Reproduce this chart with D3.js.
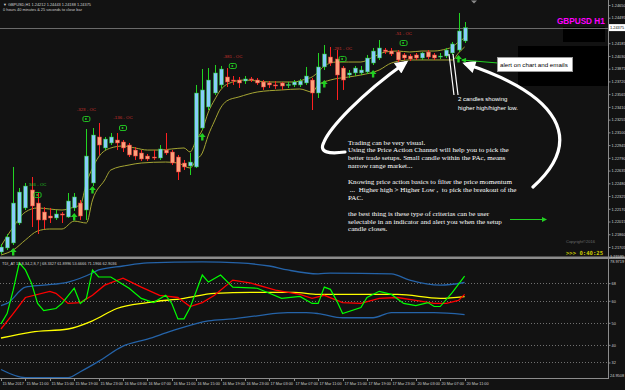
<!DOCTYPE html>
<html>
<head>
<meta charset="utf-8">
<script src="https://cdn.jsdelivr.net/npm/d3@7"></script>
<style>
  html, body { margin: 0; padding: 0; background: #121212; }
  svg { display: block; }
</style>
</head>
<body>
<div id="chart"></div>
<script>
// GBPUSD H1 bars, 15 Mar 2017 07:00 -> 20 Mar 11:00
const opens = [
  1.21644, 1.21693, 1.21754, 1.21997, 1.22180, 1.22399, 1.22240, 1.22131, 1.22082, 1.22058,
  1.22107, 1.22070, 1.22180, 1.22240, 1.22155, 1.22484, 1.23044, 1.22910, 1.22971, 1.23007,
  1.22983, 1.22946, 1.22885, 1.22849, 1.22812, 1.22800, 1.22788, 1.22885, 1.22861, 1.22800,
  1.22727, 1.22691, 1.22679, 1.23153, 1.23409, 1.23579, 1.23677, 1.23774, 1.23737, 1.23737,
  1.23725, 1.23750, 1.23737, 1.23713, 1.23701, 1.23677, 1.23701, 1.23677, 1.23677, 1.23677,
  1.23701, 1.23737, 1.23579, 1.23896, 1.24017, 1.23993, 1.23883, 1.23798, 1.23823, 1.23823,
  1.23835, 1.23944, 1.24005, 1.24102, 1.24090, 1.24078, 1.24042, 1.24029, 1.24042, 1.24005,
  1.24078, 1.24042, 1.24017, 1.24029, 1.24066, 1.24102, 1.24212
];
const highs = [
  1.21742, 1.21863, 1.22679, 1.22423, 1.22484, 1.22557, 1.22362, 1.22192, 1.22180, 1.22155,
  1.22131, 1.22362, 1.22362, 1.22277, 1.23141, 1.23153, 1.23214, 1.23044, 1.23092, 1.23092,
  1.23007, 1.22971, 1.22922, 1.22885, 1.22837, 1.22885, 1.22946, 1.23092, 1.22885, 1.22825,
  1.22764, 1.22849, 1.23677, 1.23871, 1.23883, 1.23920, 1.23908, 1.23883, 1.23786, 1.23774,
  1.23786, 1.23774, 1.23762, 1.23737, 1.23725, 1.23725, 1.23713, 1.23713, 1.23737, 1.23750,
  1.23896, 1.23762, 1.24066, 1.24163, 1.24139, 1.24102, 1.23908, 1.23859, 1.23908, 1.23908,
  1.24042, 1.24127, 1.24224, 1.24127, 1.24127, 1.24102, 1.24066, 1.24054, 1.24066, 1.24078,
  1.24102, 1.24066, 1.24066, 1.24127, 1.24200, 1.24553, 1.24443
];
const lows = [
  1.21620, 1.21668, 1.21729, 1.21973, 1.22155, 1.21948, 1.21863, 1.21924, 1.21997, 1.22034,
  1.21997, 1.22058, 1.22143, 1.22034, 1.22034, 1.22447, 1.22825, 1.22885, 1.22946, 1.22885,
  1.22861, 1.22800, 1.22764, 1.22752, 1.22752, 1.22764, 1.22764, 1.22825, 1.22703, 1.22520,
  1.22642, 1.22581, 1.22666, 1.23129, 1.23372, 1.23555, 1.23640, 1.23652, 1.23677, 1.23640,
  1.23689, 1.23713, 1.23677, 1.23616, 1.23640, 1.23628, 1.23616, 1.23640, 1.23652, 1.23652,
  1.23677, 1.23372, 1.23518, 1.23859, 1.23908, 1.23494, 1.23616, 1.23762, 1.23786, 1.23798,
  1.23810, 1.23920, 1.23981, 1.24054, 1.24029, 1.23956, 1.23981, 1.23969, 1.23981, 1.23981,
  1.23993, 1.23981, 1.23993, 1.24005, 1.24042, 1.24078, 1.24188
];
const closes = [
  1.21705, 1.21827, 1.22240, 1.22374, 1.22447, 1.22204, 1.22034, 1.22034, 1.22058, 1.22107,
  1.22094, 1.22265, 1.22314, 1.22082, 1.22812, 1.23068, 1.22946, 1.23019, 1.23044, 1.22971,
  1.22910, 1.22825, 1.22812, 1.22776, 1.22776, 1.22796, 1.22898, 1.22849, 1.22727, 1.22618,
  1.22679, 1.22739, 1.23579, 1.23616, 1.23737, 1.23823, 1.23871, 1.23713, 1.23731, 1.23701,
  1.23750, 1.23744, 1.23701, 1.23652, 1.23677, 1.23671, 1.23664, 1.23683, 1.23713, 1.23725,
  1.23786, 1.23579, 1.23896, 1.24054, 1.23944, 1.23798, 1.23737, 1.23823, 1.23883, 1.23859,
  1.24005, 1.24090, 1.24127, 1.24084, 1.24054, 1.23981, 1.24005, 1.23993, 1.24005, 1.24066,
  1.24017, 1.24005, 1.24029, 1.24102, 1.24176, 1.24334, 1.24375
];

// price action channel [bar, price]
const pacUpper = [
  [0, 1.21717], [2, 1.21948], [4, 1.22131], [6, 1.22180], [8, 1.22167], [10, 1.22155],
  [12, 1.22192], [13, 1.22216], [14, 1.22484], [15, 1.22666], [16, 1.22800], [18, 1.22910],
  [20, 1.22934], [22, 1.22910], [24, 1.22885], [26, 1.22885], [28, 1.22898], [30, 1.22910],
  [31, 1.22861], [32, 1.23007], [33, 1.23129], [34, 1.23348], [35, 1.23494], [36, 1.23616],
  [38, 1.23713], [40, 1.23737], [42, 1.23725], [44, 1.23713], [46, 1.23713], [48, 1.23713],
  [50, 1.23750], [51, 1.23774], [52, 1.23835], [53, 1.23908], [55, 1.23956], [57, 1.23956],
  [59, 1.23956], [61, 1.24017], [63, 1.24078], [65, 1.24090], [67, 1.24078], [69, 1.24090],
  [71, 1.24090], [73, 1.24115], [74, 1.24139], [75, 1.24200], [76, 1.24249]
];
const pacLower = [
  [0, 1.21608], [2, 1.21668], [4, 1.21790], [6, 1.21900], [8, 1.21924], [10, 1.21924],
  [12, 1.22020], [14, 1.21997], [15, 1.22277], [17, 1.22520], [18, 1.22642], [21, 1.22703],
  [23, 1.22727], [27, 1.22739], [29, 1.22727], [31, 1.22666], [32, 1.22764], [33, 1.22849],
  [34, 1.23068], [35, 1.23238], [36, 1.23397], [37, 1.23482], [39, 1.23531], [42, 1.23591],
  [46, 1.23616], [49, 1.23628], [51, 1.23591], [52, 1.23677], [54, 1.23737], [57, 1.23774],
  [59, 1.23798], [62, 1.23859], [64, 1.23944], [67, 1.23981], [70, 1.23981], [74, 1.23981],
  [75, 1.24066], [76, 1.24139]
];

// TDI sub window [bar, value]
const tdiUpper = [
  [0, 57.8], [1, 58.8], [4, 66.2], [7, 67.1], [11, 68.5], [15, 72.6], [16, 74.0], [20, 75.8],
  [24, 77.2], [33, 77.7], [39, 77.2], [44, 75.8], [47, 74.0], [52, 72.2], [54, 72.6],
  [64, 72.2], [67, 69.4], [72, 67.1], [76, 68.3]
];
const tdiLower = [
  [0, 28.8], [4, 25.1], [11, 25.1], [13, 27.8], [16, 32.5], [20, 39.4], [24, 42.6], [28, 46.3],
  [34, 50.9], [38, 51.8], [42, 53.2], [47, 54.6], [50, 54.6], [52, 54.2], [56, 52.3],
  [61, 52.3], [64, 54.6], [71, 54.6], [76, 53.7]
];
const tdiBase = [
  [0, 43.1], [5, 45.8], [11, 47.2], [15, 50.9], [19, 56.5], [24, 59.2], [30, 61.1], [35, 63.4],
  [41, 63.8], [48, 63.8], [52, 62.9], [65, 62.9], [72, 61.1], [76, 61.9]
];
const tdiSignal = [
  [0, 47.2], [2, 54.2], [4, 61.5], [8, 64.3], [9, 63.4], [11, 58.8], [13, 59.2], [15, 62.5],
  [17, 67.1], [20, 70.3], [23, 66.2], [26, 62.5], [29, 61.5], [31, 57.4], [33, 59.2],
  [35, 62.5], [38, 69.4], [41, 68.0], [45, 64.8], [49, 62.9], [51, 61.1], [53, 62.5],
  [56, 59.2], [59, 58.8], [62, 61.1], [65, 61.5], [68, 60.2], [71, 58.8], [73, 58.8],
  [75, 60.2], [76, 62.9]
];
const tdiRsi = [
  [0, 49.5], [1, 54.2], [2, 64.8], [3, 77.2], [4, 74.0], [5, 68.0], [6, 58.8], [7, 55.5],
  [9, 56.5], [10, 58.8], [12, 65.7], [13, 58.8], [14, 61.1], [15, 74.0], [16, 70.8],
  [18, 70.8], [21, 65.7], [23, 61.1], [25, 59.2], [27, 62.5], [28, 58.8], [29, 51.8],
  [30, 51.8], [31, 56.9], [33, 71.7], [34, 68.5], [36, 71.7], [38, 66.2], [42, 65.7],
  [44, 63.4], [46, 61.1], [49, 62.0], [51, 58.8], [52, 58.8], [53, 66.2], [54, 65.2],
  [55, 60.2], [56, 54.2], [59, 56.9], [60, 61.5], [62, 64.3], [64, 62.9], [66, 58.8],
  [68, 57.8], [70, 59.2], [71, 57.4], [72, 57.4], [74, 63.8], [76, 71.2]
];
const tdiLevels = [68, 60, 50, 40, 32];

// signal labels and buy arrows
const signalBars = [6, 14, 20, 38, 56, 66];
const signalPrices = [1.22460, 1.23384, 1.23275, 1.24029, 1.24115, 1.24309];
const signalLabels = ['346 - OC', '-323 - OC', '-136 - OC', '-381 - OC', '-281 - OC', '-51 - OC'];
const arrowBars = [2, 12, 15, 33, 53, 61, 75];
const arrowPrices = [1.21644, 1.22070, 1.22399, 1.23044, 1.23689, 1.23810, 1.23993];

// axis labels
const priceTicks = [
  1.24650, 1.24495, 1.24340, 1.24185, 1.24030, 1.23875, 1.23720, 1.23565, 1.23410, 1.23255,
  1.23100, 1.22945, 1.22790, 1.22635, 1.22480, 1.22325, 1.22170, 1.22015, 1.21860, 1.21705
];
const timeTickBars = [0, 4, 8, 12, 16, 20, 24, 28, 32, 36, 40, 44, 48, 52, 56, 60, 64, 68, 72, 76];
const timeLabels = [
  '15 Mar 2017', '15 Mar 11:00', '15 Mar 15:00', '15 Mar 19:00', '15 Mar 23:00',
  '16 Mar 03:00', '16 Mar 07:00', '16 Mar 11:00', '16 Mar 15:00', '16 Mar 19:00',
  '16 Mar 23:00', '17 Mar 03:00', '17 Mar 07:00', '17 Mar 11:00', '17 Mar 15:00',
  '17 Mar 19:00', '17 Mar 23:00', '20 Mar 03:00', '20 Mar 07:00', '20 Mar 11:00'
];

// hand drawn annotations, anchored in [bar, price]
const annoArrowA = [[56.39, 1.22861], [53.93, 1.22837], [51.97, 1.22849], [52.95, 1.22983],
  [53.93, 1.23153], [58.85, 1.23555], [66.23, 1.23944]];
const annoArrowB = [[87.21, 1.22435], [95.74, 1.23007], [91.64, 1.23555], [76.23, 1.23932]];
const annoPointers = [
  [[73.44, 1.24054], [74.26, 1.23555]],
  [[74.10, 1.24054], [74.92, 1.23555]]
];
const annoAlert = [[81.48, 1.23944], [75.57, 1.23981]];

const noteLines = [
  'Trading can be very visual.',
  'Using the Price Action Channel will help you to pick the',
  'better trade setups. Small candle within the PAc, means',
  'narrow range market...',
  '',
  'Knowing price action basics to filter the price momentum',
  ' ...  Higher high > Higher Low ,  to pick the breakout of the',
  'PAC.',
  '',
  'the best thing is these type of criterias can be user',
  'selectable in an indicator and alert you when the setup',
  'candle closes.'
];

// ---- layout
const W = 625, H = 390;
const plotRight = 608;
const mainBottom = 256;
const indTop = 259, indBottom = 378;
const tiny = "'Liberation Sans', Arial, sans-serif";

const xScale = d3.scaleLinear().domain([0, 76]).range([1, 464.6]);
const yScale = d3.scaleLinear().domain([1.21705, 1.24650]).range([247, 5]);
const tdiScale = d3.scaleLinear().domain([24.9508, 78.9719]).range([indBottom, indTop]);

const svg = d3.select('#chart').append('svg')
  .attr('width', W).attr('height', H)
  .style('font-family', tiny);

svg.append('rect').attr('width', W).attr('height', H).attr('fill', '#121212');

const defs = svg.append('defs');
defs.append('clipPath').attr('id', 'clipMain')
  .append('rect').attr('x', 0).attr('y', 0).attr('width', plotRight).attr('height', mainBottom);
defs.append('clipPath').attr('id', 'clipInd')
  .append('rect').attr('x', 0).attr('y', indTop).attr('width', plotRight).attr('height', indBottom - indTop);
defs.append('marker').attr('id', 'headWhite')
  .attr('viewBox', '0 0 10 10').attr('refX', 7).attr('refY', 5)
  .attr('markerWidth', 15).attr('markerHeight', 13)
  .attr('markerUnits', 'userSpaceOnUse').attr('orient', 'auto')
  .append('path').attr('d', 'M0,0 L10,5 L0,10 Z').attr('fill', '#fff');
defs.append('marker').attr('id', 'headGreen')
  .attr('viewBox', '0 0 10 10').attr('refX', 8).attr('refY', 5)
  .attr('markerWidth', 6).attr('markerHeight', 5)
  .attr('markerUnits', 'userSpaceOnUse').attr('orient', 'auto')
  .append('path').attr('d', 'M0,0 L10,5 L0,10 Z').attr('fill', '#22d022');

// black boxes behind the labels
svg.append('rect').attr('x', 518).attr('y', 46).attr('width', 90).attr('height', 40).attr('fill', '#000');
svg.append('rect').attr('x', 563).attr('y', 27).attr('width', 42).attr('height', 15).attr('fill', '#000');

const main = svg.append('g').attr('clip-path', 'url(#clipMain)');

// bid line
const lastClose = closes[closes.length - 1];
main.append('line')
  .attr('x1', 0).attr('x2', plotRight)
  .attr('y1', Math.round(yScale(lastClose)) + 0.5).attr('y2', Math.round(yScale(lastClose)) + 0.5)
  .attr('stroke', '#6a6a6a').attr('stroke-width', 1);

// price action channel
const pacLine = d3.line()
  .x((d) => xScale(d[0]))
  .y((d) => yScale(d[1]))
  .curve(d3.curveMonotoneX);
[pacUpper, pacLower].forEach((s) => {
  main.append('path').attr('d', pacLine(s))
    .attr('fill', 'none').attr('stroke', '#a5a533').attr('stroke-width', 1);
});

// candles
const candles = closes.map((c, i) => ({ i, o: opens[i], h: highs[i], l: lows[i], c }));
const cg = main.append('g');
const bar = cg.selectAll('g').data(candles).enter().append('g');
bar.append('line')
  .attr('x1', (d) => Math.round(xScale(d.i)) + 0.5)
  .attr('x2', (d) => Math.round(xScale(d.i)) + 0.5)
  .attr('y1', (d) => yScale(d.h))
  .attr('y2', (d) => yScale(d.l))
  .attr('stroke', (d) => (d.c >= d.o ? '#22d422' : '#ff2020'))
  .attr('stroke-width', 1);
bar.append('rect')
  .attr('x', (d) => Math.round(xScale(d.i)) - 1.5)
  .attr('y', (d) => yScale(Math.max(d.o, d.c)))
  .attr('width', 4)
  .attr('height', (d) => Math.max(1, Math.abs(yScale(d.o) - yScale(d.c))))
  .attr('fill', (d) => (d.c >= d.o ? '#87cefa' : '#ffa07a'))
  .attr('stroke', (d) => (d.c >= d.o ? '#22b422' : '#e03030'))
  .attr('stroke-width', 0.5);

// signal labels with tag icons
signalBars.forEach((b, k) => {
  const x = xScale(b);
  const y = yScale(signalPrices[k]);
  const isUp = signalLabels[k][0] !== '-';
  main.append('text').attr('x', x).attr('y', y + 1.5)
    .attr('text-anchor', 'middle')
    .attr('font-size', 4.4)
    .attr('fill', isUp ? '#22c022' : '#c8302c')
    .text(signalLabels[k]);
  main.append('rect').attr('x', x - 3.5).attr('y', y + 7.5).attr('width', 7).attr('height', 5)
    .attr('rx', 1.5).attr('fill', 'none').attr('stroke', '#22c022').attr('stroke-width', 1);
  main.append('circle').attr('cx', x - 0.5).attr('cy', y + 10).attr('r', 1)
    .attr('fill', '#22c022');
});

// buy arrows
arrowBars.forEach((b, k) => {
  main.append('path')
    .attr('transform', `translate(${xScale(b)},${yScale(arrowPrices[k])})`)
    .attr('d', 'M0,-4 L3.4,0 L1.2,0 L1.2,3.5 L-1.2,3.5 L-1.2,0 L-3.4,0 Z')
    .attr('fill', '#22d022');
});

// annotations
function toPx(p) { return [xScale(p[0]), yScale(p[1])]; }
function bezierPath(pts) {
  const path = d3.path();
  const p0 = toPx(pts[0]);
  path.moveTo(p0[0], p0[1]);
  for (let k = 1; k + 2 < pts.length; k += 3) {
    const a = toPx(pts[k]), b = toPx(pts[k + 1]), c = toPx(pts[k + 2]);
    path.bezierCurveTo(a[0], a[1], b[0], b[1], c[0], c[1]);
  }
  return path.toString();
}
[annoArrowA, annoArrowB].forEach((pts) => {
  svg.append('path').attr('d', bezierPath(pts))
    .attr('fill', 'none').attr('stroke', '#fff').attr('stroke-width', 3.2)
    .attr('stroke-linecap', 'round')
    .attr('marker-end', 'url(#headWhite)');
});
annoPointers.forEach((seg) => {
  const a = toPx(seg[0]), b = toPx(seg[1]);
  svg.append('line').attr('x1', a[0]).attr('y1', a[1]).attr('x2', b[0]).attr('y2', b[1])
    .attr('stroke', '#fff').attr('stroke-width', 1.2);
});
{
  const a = toPx(annoAlert[0]), b = toPx(annoAlert[1]);
  svg.append('line').attr('x1', a[0]).attr('y1', a[1]).attr('x2', b[0]).attr('y2', b[1])
    .attr('stroke', '#22d022').attr('stroke-width', 1.2)
    .attr('marker-end', 'url(#headGreen)');
}

// alert box
svg.append('rect').attr('x', 497.5).attr('y', 57.5).attr('width', 75).attr('height', 14)
  .attr('fill', '#fff').attr('stroke', '#9a9a9a').attr('stroke-width', 1);
svg.append('text').attr('x', 500).attr('y', 67)
  .attr('font-size', 6.2).attr('fill', '#000')
  .text('alert on chart and emails');

svg.append('text').attr('x', 458).attr('y', 100.5).attr('font-size', 6).attr('fill', '#fff')
  .text('2 candles showing');
svg.append('text').attr('x', 458).attr('y', 109.5).attr('font-size', 6).attr('fill', '#fff')
  .text('higher high/higher low.');

// note block
const note = svg.append('text')
  .attr('font-family', "'Liberation Serif', 'Times New Roman', serif")
  .attr('font-size', 7.1).attr('fill', '#fff');
noteLines.forEach((t, k) => {
  note.append('tspan').attr('x', 348).attr('y', 144.5 + k * 7.9)
    .attr('xml:space', 'preserve').text(t);
});

// green arrow near the text block
svg.append('line').attr('x1', 510).attr('y1', 219.5).attr('x2', 546).attr('y2', 219.5)
  .attr('stroke', '#22d022').attr('stroke-width', 1.2)
  .attr('marker-end', 'url(#headGreen)');

// title and timers
svg.append('text').attr('x', 557).attr('y', 23.5)
  .attr('font-size', 8.2).attr('font-weight', 'bold').attr('fill', '#ff00ff')
  .text('GBPUSD H1');
svg.append('text').attr('x', 566).attr('y', 243).attr('font-size', 4).attr('fill', '#6c6c6c')
  .text('Copyright©2016');
svg.append('text').attr('x', 566).attr('y', 255)
  .attr('font-family', "'DejaVu Sans Mono', monospace")
  .attr('font-size', 5.6).attr('font-weight', 'bold').attr('fill', '#c8c800')
  .text('>>> 0:40:25');

const fmt5 = d3.format('.5f');
svg.append('text').attr('x', 3).attr('y', 6).attr('font-size', 3.9).attr('fill', '#d0d0d0')
  .text('\u25BC GBPUSD,H1  ' + [opens, highs, lows, closes].map((a) => fmt5(a[a.length - 1])).join(' '));
svg.append('text').attr('x', 3).attr('y', 11).attr('font-size', 3.9).attr('fill', '#d0d0d0')
  .text('0 hours 40 minutes & 25 seconds to close bar');
svg.append('path').attr('d', 'M471,0.5 L477,0.5 L474,3.5 Z').attr('fill', '#8a8a8a');

// ---- indicator window
svg.append('rect').attr('x', 0).attr('y', mainBottom + 0.5).attr('width', W).attr('height', 2.5)
  .attr('fill', '#8c8c8c');

const ind = svg.append('g').attr('clip-path', 'url(#clipInd)');
tdiLevels.forEach((v) => {
  ind.append('line').attr('x1', 0).attr('x2', plotRight)
    .attr('y1', Math.round(tdiScale(v)) + 0.5).attr('y2', Math.round(tdiScale(v)) + 0.5)
    .attr('stroke', '#707070').attr('stroke-width', 1).attr('stroke-dasharray', '1,2');
});
const smoothLine = d3.line().x((d) => xScale(d[0])).y((d) => tdiScale(d[1])).curve(d3.curveMonotoneX);
const rawLine = d3.line().x((d) => xScale(d[0])).y((d) => tdiScale(d[1]));
ind.append('path').attr('d', smoothLine(tdiUpper)).attr('fill', 'none').attr('stroke', '#2563a8').attr('stroke-width', 1.3);
ind.append('path').attr('d', smoothLine(tdiLower)).attr('fill', 'none').attr('stroke', '#2563a8').attr('stroke-width', 1.3);
ind.append('path').attr('d', smoothLine(tdiBase)).attr('fill', 'none').attr('stroke', '#ffff00').attr('stroke-width', 1.3);
ind.append('path').attr('d', rawLine(tdiSignal)).attr('fill', 'none').attr('stroke', '#ff0000').attr('stroke-width', 1.3);
ind.append('path').attr('d', rawLine(tdiRsi)).attr('fill', 'none').attr('stroke', '#00ff00').attr('stroke-width', 1.2);

svg.append('text').attr('x', 2).attr('y', 264.5).attr('font-size', 3.9).attr('fill', '#d0d0d0')
  .text('TDI_AT 13,8,34,2,8,7 | 68.3327 61.8996 53.6666 71.1966 62.9036');

// ---- axes
const axisColor = '#8c8c8c';
svg.append('line').attr('x1', plotRight + 0.5).attr('x2', plotRight + 0.5).attr('y1', 0).attr('y2', indBottom)
  .attr('stroke', axisColor);
svg.append('line').attr('x1', 0).attr('x2', plotRight + 1).attr('y1', indBottom + 0.5).attr('y2', indBottom + 0.5)
  .attr('stroke', axisColor);

// the current price box covers the tick label it sits on
const boxY = yScale(lastClose);
const shownTicks = priceTicks.filter((v) => Math.abs(yScale(v) - boxY) > 6);
const yAxis = svg.append('g')
  .attr('transform', `translate(${plotRight + 0.5},0)`)
  .call(d3.axisRight(yScale).tickValues(shownTicks).tickFormat(fmt5).tickSize(2).tickPadding(1));
yAxis.select('.domain').remove();
yAxis.selectAll('line').attr('stroke', axisColor);
yAxis.selectAll('text').attr('font-size', 3.9).attr('fill', '#cfcfcf').attr('font-family', tiny);

// current price box
svg.append('rect').attr('x', plotRight + 1).attr('y', boxY - 3.5)
  .attr('width', 16).attr('height', 7).attr('fill', '#fff');
svg.append('text').attr('x', plotRight + 2).attr('y', boxY + 1.4)
  .attr('font-size', 3.9).attr('fill', '#000').text(fmt5(lastClose));

// window edge values
svg.append('text').attr('x', plotRight + 2).attr('y', mainBottom + 2).attr('font-size', 3.9)
  .attr('fill', '#cfcfcf').text(fmt5(yScale.invert(mainBottom)));
const tdiDomain = tdiScale.domain();
svg.append('text').attr('x', plotRight + 2).attr('y', indTop + 4).attr('font-size', 3.9)
  .attr('fill', '#cfcfcf').text(d3.format('.4f')(tdiDomain[1]));
svg.append('text').attr('x', plotRight + 2).attr('y', indBottom - 1).attr('font-size', 3.9)
  .attr('fill', '#cfcfcf').text(d3.format('.4f')(tdiDomain[0]));

const tAxis = svg.append('g')
  .attr('transform', `translate(${plotRight + 0.5},0)`)
  .call(d3.axisRight(tdiScale).tickValues(tdiLevels).tickFormat(d3.format('d')).tickSize(2).tickPadding(1));
tAxis.select('.domain').remove();
tAxis.selectAll('line').attr('stroke', axisColor);
tAxis.selectAll('text').attr('font-size', 3.9).attr('fill', '#cfcfcf').attr('font-family', tiny);

// time axis
const tg = svg.append('g');
timeTickBars.forEach((b, k) => {
  const x = Math.round(xScale(b)) + 0.5;
  tg.append('line').attr('x1', x).attr('x2', x).attr('y1', indBottom).attr('y2', indBottom + 3)
    .attr('stroke', axisColor);
  tg.append('text').attr('x', x + 1).attr('y', indBottom + 7)
    .attr('font-size', 3.8).attr('fill', '#cfcfcf').text(timeLabels[k]);
});
</script>
</body>
</html>
